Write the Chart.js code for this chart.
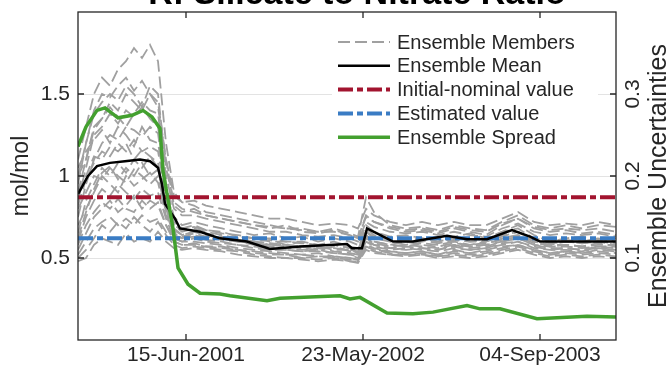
<!DOCTYPE html>
<html>
<head>
<meta charset="utf-8">
<script src="https://cdn.jsdelivr.net/npm/chart.js@4.4.0/dist/chart.umd.min.js"></script>
<style>
  html, body { margin: 0; padding: 0; background: #fff; }
</style>
</head>
<body>
<canvas id="chart" width="671" height="367"></canvas>
<script>
// x axis is the sample index along the record, ticks are labelled with dates
const xMax = 269;
const xTickValues = [54, 142.5, 231];
const xTickLabels = ['15-Jun-2001', '23-May-2002', '04-Sep-2003'];

const yTicks = [0.5, 1, 1.5];          // mol/mol
const y2Ticks = [0.1, 0.2, 0.3];       // ensemble uncertainties

const titleText = 'R: Silicate to Nitrate Ratio';

// ensemble members (left axis)
const memberT = [0,4,8,12,16,20,24,28,32,36,40,44,48,52,58,64,72,80,88,96,104,112,120,128,136,140,144,148,156,164,172,180,188,196,204,212,220,228,236,244,252,260,269];
const member01 = [0.95,1.2,1.4,1.5,1.48,1.55,1.6,1.52,1.58,1.5,1.45, 1.1,0.82,0.78, 0.8,0.76,0.74,0.72,0.7,0.68,0.7,0.66,0.65,0.67,0.64, 0.62,0.75, 0.72,0.68,0.66,0.67,0.65,0.68,0.66,0.64,0.7,0.74,0.68,0.66,0.67,0.65,0.66,0.64];
const member02 = [0.85,1.05,1.25,1.3,1.38,1.32,1.4,1.36,1.42,1.35,1.3, 0.95,0.75,0.7, 0.72,0.7,0.68,0.66,0.64,0.65,0.62,0.63,0.6,0.62,0.6, 0.58,0.7, 0.66,0.63,0.64,0.62,0.6,0.63,0.65,0.62,0.66,0.7,0.64,0.6,0.62,0.63,0.61,0.62];
const member03 = [0.75,0.95,1.1,1.2,1.25,1.22,1.3,1.28,1.24,1.3,1.26, 0.9,0.7,0.66, 0.68,0.66,0.64,0.62,0.6,0.61,0.58,0.6,0.57,0.58,0.56, 0.55,0.66, 0.62,0.6,0.58,0.6,0.62,0.6,0.58,0.6,0.64,0.66,0.6,0.58,0.6,0.59,0.6,0.58];
const member04 = [0.9,1.0,1.12,1.1,1.18,1.15,1.2,1.1,1.16,1.12,1.08, 0.85,0.68,0.64, 0.66,0.64,0.62,0.6,0.59,0.58,0.57,0.56,0.55,0.57,0.54, 0.53,0.64, 0.6,0.58,0.57,0.59,0.58,0.6,0.57,0.58,0.62,0.64,0.6,0.57,0.58,0.57,0.59,0.57];
const member05 = [0.65,0.85,0.95,1.05,1.0,1.08,1.02,1.1,1.05,1.12,1.05, 0.8,0.66,0.62, 0.64,0.62,0.61,0.6,0.58,0.57,0.56,0.55,0.56,0.54,0.53, 0.52,0.62, 0.58,0.56,0.57,0.56,0.55,0.58,0.56,0.57,0.6,0.62,0.58,0.56,0.56,0.55,0.57,0.56];
const member06 = [0.8,0.9,1.0,0.98,1.05,1.0,0.96,1.04,1.0,0.95,1.0, 0.78,0.64,0.62, 0.63,0.61,0.6,0.58,0.57,0.56,0.55,0.54,0.55,0.53,0.52, 0.5,0.6, 0.57,0.55,0.56,0.55,0.54,0.56,0.55,0.56,0.58,0.6,0.56,0.55,0.55,0.54,0.56,0.55];
const member07 = [0.6,0.75,0.85,0.92,0.88,0.95,0.9,0.86,0.92,0.88,0.9, 0.74,0.62,0.6, 0.6,0.59,0.58,0.56,0.55,0.54,0.53,0.52,0.53,0.51,0.5, 0.49,0.58, 0.56,0.54,0.53,0.54,0.52,0.55,0.53,0.55,0.57,0.58,0.55,0.53,0.54,0.53,0.55,0.54];
const member08 = [0.55,0.65,0.75,0.8,0.85,0.78,0.82,0.88,0.8,0.85,0.82, 0.7,0.6,0.58, 0.59,0.57,0.56,0.55,0.53,0.52,0.52,0.5,0.51,0.5,0.49, 0.48,0.57, 0.55,0.53,0.52,0.53,0.51,0.53,0.52,0.53,0.55,0.57,0.54,0.52,0.53,0.52,0.53,0.52];
const member09 = [0.5,0.55,0.62,0.7,0.66,0.72,0.68,0.75,0.7,0.66,0.72, 0.64,0.58,0.56, 0.57,0.56,0.55,0.54,0.52,0.51,0.5,0.5,0.49,0.5,0.48, 0.48,0.56, 0.54,0.52,0.52,0.52,0.51,0.52,0.51,0.52,0.54,0.56,0.53,0.51,0.52,0.51,0.52,0.51];
const member10 = [1.0,1.1,1.3,1.35,1.45,1.4,1.5,1.45,1.4,1.5,1.42, 1.1,0.88,0.84, 0.85,0.82,0.8,0.78,0.76,0.74,0.74,0.72,0.7,0.71,0.7, 0.68,0.8, 0.76,0.72,0.7,0.72,0.7,0.72,0.7,0.7,0.74,0.78,0.72,0.7,0.71,0.7,0.72,0.7];
const member11 = [1.1,1.3,1.5,1.6,1.55,1.65,1.7,1.78,1.72,1.8,1.7, 1.2,0.9,0.84, 0.82,0.78,0.76,0.74,0.72,0.7,0.68,0.68,0.66,0.68,0.65, 0.63,0.87, 0.78,0.7,0.68,0.69,0.67,0.7,0.68,0.67,0.72,0.76,0.7,0.68,0.7,0.68,0.7,0.69];
const member12 = [0.48,0.5,0.58,0.62,0.6,0.58,0.65,0.6,0.62,0.6,0.66, 0.6,0.56,0.55, 0.56,0.55,0.54,0.52,0.51,0.5,0.5,0.49,0.48,0.49,0.48, 0.47,0.55, 0.53,0.52,0.51,0.52,0.5,0.51,0.5,0.51,0.53,0.55,0.52,0.5,0.51,0.5,0.51,0.5];
const member13 = [1.05,1.15,1.22,1.28,1.2,1.3,1.25,1.18,1.3,1.22,1.2, 0.92,0.72,0.68, 0.7,0.67,0.65,0.64,0.62,0.62,0.6,0.6,0.58,0.6,0.57, 0.56,0.68, 0.64,0.62,0.61,0.62,0.6,0.62,0.6,0.61,0.66,0.68,0.62,0.6,0.61,0.6,0.62,0.6];
const member14 = [0.7,0.8,0.9,1.0,0.95,0.9,1.0,0.94,0.98,1.02,0.96, 0.76,0.65,0.63, 0.65,0.63,0.62,0.6,0.6,0.58,0.58,0.57,0.56,0.56,0.55, 0.54,0.63, 0.6,0.58,0.6,0.58,0.57,0.59,0.58,0.59,0.61,0.63,0.59,0.58,0.58,0.57,0.58,0.58];
const member15 = [0.9,1.1,1.28,1.35,1.42,1.36,1.3,1.38,1.45,1.4,1.38, 1.0,0.8,0.76, 0.76,0.74,0.72,0.7,0.68,0.66,0.66,0.64,0.63,0.64,0.62, 0.6,0.72, 0.69,0.66,0.65,0.66,0.64,0.66,0.64,0.63,0.68,0.71,0.66,0.64,0.65,0.64,0.65,0.63];
const member16 = [0.58,0.7,0.78,0.84,0.8,0.86,0.8,0.78,0.85,0.8,0.84, 0.7,0.62,0.6, 0.62,0.6,0.59,0.58,0.56,0.55,0.55,0.54,0.54,0.53,0.52, 0.51,0.6, 0.58,0.56,0.55,0.56,0.55,0.57,0.55,0.56,0.59,0.6,0.57,0.55,0.56,0.55,0.56,0.55];
const member17 = [0.82,0.98,1.08,1.15,1.12,1.2,1.15,1.22,1.15,1.18,1.15, 0.88,0.7,0.67, 0.69,0.67,0.66,0.63,0.62,0.6,0.6,0.59,0.58,0.58,0.56, 0.55,0.66, 0.63,0.61,0.6,0.61,0.59,0.61,0.6,0.6,0.63,0.66,0.61,0.59,0.6,0.59,0.6,0.59];
const member18 = [0.62,0.78,0.92,1.02,1.06,0.98,1.05,1.0,1.08,1.0,1.04, 0.82,0.67,0.64, 0.66,0.65,0.63,0.61,0.6,0.59,0.58,0.57,0.57,0.55,0.55, 0.53,0.62, 0.59,0.57,0.58,0.57,0.56,0.58,0.57,0.58,0.6,0.62,0.58,0.57,0.57,0.56,0.57,0.57];
const member19 = [0.52,0.6,0.68,0.72,0.75,0.7,0.74,0.7,0.76,0.72,0.74, 0.66,0.6,0.58, 0.58,0.57,0.57,0.55,0.54,0.53,0.52,0.52,0.51,0.51,0.5, 0.49,0.57, 0.55,0.54,0.53,0.54,0.52,0.54,0.53,0.54,0.56,0.58,0.55,0.53,0.54,0.53,0.54,0.53];
const member20 = [1.0,1.2,1.38,1.45,1.5,1.46,1.55,1.5,1.42,1.55,1.5, 1.05,0.84,0.8, 0.78,0.76,0.74,0.72,0.7,0.69,0.68,0.67,0.66,0.66,0.64, 0.62,0.76, 0.72,0.69,0.67,0.68,0.66,0.69,0.67,0.66,0.71,0.74,0.69,0.67,0.68,0.67,0.68,0.66];
const memberSeries = [member01, member02, member03, member04, member05, member06, member07,
                      member08, member09, member10, member11, member12, member13, member14,
                      member15, member16, member17, member18, member19, member20];

// ensemble mean (left axis)
const meanT = [0,5,9.5,16,23.5,31,36,40,42,43.5,48.5,51,61,71,84.5,96,111,134.5,137,142,144.5,149.5,157.5,167.5,184.5,194.5,204.5,217,226,231,251,269];
const meanV = [0.89,1.0,1.06,1.08,1.09,1.1,1.09,1.05,0.95,0.83,0.74,0.68,0.66,0.62,0.6,0.555,0.57,0.585,0.56,0.56,0.68,0.65,0.6,0.6,0.635,0.615,0.615,0.67,0.63,0.6,0.6,0.6];

// ensemble spread (right axis)
const spreadT = [0,4,9.5,13.5,20,27,32.5,37,41,42.5,47.5,50,55,61,71,76,94.5,101,131,136,141,154.5,167.5,177.5,194.5,201,211,229.5,254.5,269];
const spreadV = [0.236,0.26,0.28,0.283,0.271,0.274,0.28,0.272,0.258,0.206,0.136,0.088,0.068,0.057,0.056,0.054,0.048,0.051,0.054,0.05,0.052,0.033,0.032,0.034,0.042,0.038,0.038,0.026,0.029,0.028];

const nominalValue = 0.87;
const estimatedValue = 0.62;

function pairs(ts, vs) {
    return ts.map((t, i) => ({ x: t, y: vs[i] }));
}

const FONT = "'Liberation Sans', Arial, Helvetica, sans-serif";
const TXT = '#262626';
Chart.defaults.font.family = FONT;
Chart.defaults.font.size = 21;
Chart.defaults.color = TXT;

let datasets = [];
memberSeries.forEach((m, i) => {
    datasets.push({
        label: 'Ensemble Members',
        inLegend: i === 0,
        data: pairs(memberT, m),
        borderColor: '#a0a0a0',
        borderWidth: 1.8,
        borderDash: [12, 5],
        order: 5,
        yAxisID: 'y'
    });
});
datasets.push({
    label: 'Ensemble Mean', inLegend: true,
    data: pairs(meanT, meanV),
    borderColor: '#000000', borderWidth: 2.5, order: 2, yAxisID: 'y'
});
datasets.push({
    label: 'Initial-nominal value', inLegend: true,
    data: [{ x: 0, y: nominalValue }, { x: xMax, y: nominalValue }],
    borderColor: '#a2142f', borderWidth: 4, borderDash: [15, 4, 6, 4], order: 3, yAxisID: 'y'
});
datasets.push({
    label: 'Estimated value', inLegend: true,
    data: [{ x: 0, y: estimatedValue }, { x: xMax, y: estimatedValue }],
    borderColor: '#3a7cc4', borderWidth: 4, borderDash: [15, 4, 6, 4], order: 3, yAxisID: 'y'
});
datasets.push({
    label: 'Ensemble Spread', inLegend: true,
    data: pairs(spreadT, spreadV),
    borderColor: '#43a02f', borderWidth: 3.5, order: 0, yAxisID: 'y1'
});

// box, inward ticks, legend, title and right axis label
const decor = {
    id: 'decor',
    afterDatasetsDraw(chart) {
        const ctx = chart.ctx;
        const a = chart.chartArea;
        const sx = chart.scales.x, sy = chart.scales.y, sy2 = chart.scales.y1;
        ctx.save();

        // legend
        const lx = a.right - 284, ly = a.top + 16;
        ctx.fillStyle = '#ffffff';
        ctx.fillRect(lx, ly, 266, 124);
        const items = chart.data.datasets.filter(d => d.inLegend);
        ctx.font = '20px ' + FONT;
        ctx.textBaseline = 'middle';
        ctx.textAlign = 'left';
        items.forEach((d, i) => {
            const cy = ly + 14 + i * 23.8;
            ctx.strokeStyle = d.borderColor;
            ctx.lineWidth = d.borderWidth;
            ctx.setLineDash(d.borderDash || []);
            ctx.beginPath();
            ctx.moveTo(lx + 6, cy);
            ctx.lineTo(lx + 58, cy);
            ctx.stroke();
            ctx.fillStyle = TXT;
            ctx.fillText(d.label, lx + 65, cy + 1);
        });
        ctx.setLineDash([]);

        // axes box
        ctx.strokeStyle = TXT;
        ctx.lineWidth = 1.3;
        ctx.strokeRect(a.left, a.top, a.right - a.left, a.bottom - a.top);
        ctx.beginPath();
        xTickValues.forEach(v => {
            const px = sx.getPixelForValue(v);
            ctx.moveTo(px, a.bottom); ctx.lineTo(px, a.bottom - 6);
            ctx.moveTo(px, a.top); ctx.lineTo(px, a.top + 6);
        });
        yTicks.forEach(v => {
            const py = sy.getPixelForValue(v);
            ctx.moveTo(a.left, py); ctx.lineTo(a.left + 6, py);
        });
        y2Ticks.forEach(v => {
            const py = sy2.getPixelForValue(v);
            ctx.moveTo(a.right, py); ctx.lineTo(a.right - 6, py);
        });
        ctx.stroke();

        // title (cut at the top edge)
        ctx.fillStyle = '#000';
        ctx.font = 'bold 34px ' + FONT;
        ctx.textAlign = 'center';
        ctx.textBaseline = 'alphabetic';
        ctx.fillText(titleText, (a.left + a.right) / 2 + 10, 4);

        // right axis label
        ctx.fillStyle = TXT;
        ctx.font = '25px ' + FONT;
        ctx.translate(a.right + 43, (a.top + a.bottom) / 2);
        ctx.rotate(-Math.PI / 2);
        ctx.textBaseline = 'middle';
        ctx.fillText('Ensemble Uncertainties', 0, 0);
        ctx.restore();
    }
};

function noPad(s) {
    s.paddingTop = 0; s.paddingBottom = 0; s.paddingLeft = 0; s.paddingRight = 0;
}

const config = {
    type: 'line',
    data: { datasets: datasets },
    options: {
        responsive: false,
        animation: false,
        devicePixelRatio: 1,
        layout: { padding: { top: 12, left: 0, right: 0, bottom: 0 }, autoPadding: false },
        elements: { point: { radius: 0 }, line: { tension: 0, fill: false } },
        plugins: { legend: { display: false }, tooltip: { enabled: false }, title: { display: false } },
        scales: {
            x: {
                type: 'linear', min: 0, max: xMax,
                afterBuildTicks: s => { s.ticks = xTickValues.map(v => ({ value: v })); },
                afterFit: s => { s.height = 27; noPad(s); },
                grid: { display: false, drawTicks: false },
                border: { display: false },
                ticks: { autoSkip: false, maxRotation: 0, padding: 3, callback: (v, i) => xTickLabels[i] }
            },
            y: {
                position: 'left', min: 0, max: 2,
                afterBuildTicks: s => { s.ticks = yTicks.map(v => ({ value: v })); },
                afterFit: s => { s.width = 78; noPad(s); },
                grid: { color: '#e3e3e3', drawTicks: false },
                border: { display: false },
                ticks: { padding: 8, callback: v => String(v) },
                title: { display: true, text: 'mol/mol', font: { size: 23 }, padding: { top: 8, bottom: 0 } }
            },
            y1: {
                position: 'right', min: 0, max: 0.4,
                afterBuildTicks: s => { s.ticks = y2Ticks.map(v => ({ value: v })); },
                afterFit: s => { s.width = 55; noPad(s); },
                grid: { display: false, drawTicks: false },
                border: { display: false },
                ticks: { minRotation: 90, maxRotation: 90, crossAlign: 'center', padding: 3, callback: v => String(v) }
            }
        }
    },
    plugins: [decor]
};

const ctx = document.getElementById('chart').getContext('2d');
const myChart = new Chart(ctx, config);
</script>
</body>
</html>
